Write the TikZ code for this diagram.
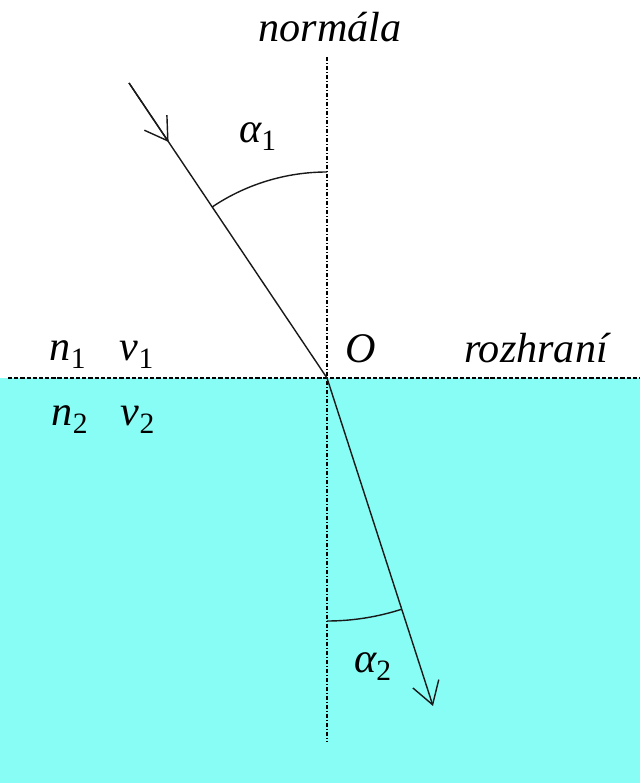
\documentclass[tikz,border=0pt]{standalone}
\usepackage{fontspec}
\setmainfont{Liberation Serif}
\usetikzlibrary{arrows.meta,calc}
\definecolor{water}{RGB}{136,253,245}

\begin{document}
\begin{tikzpicture}[
  ray/.style={line width=1pt,black!90},
  barb/.style={-{Straight Barb[length=5.5mm,width=6.8mm,line width=1pt]}},
  normline/.style={line width=1pt,dash pattern=on 3pt off 1.2pt on 1pt off 1.2pt},
  iface/.style={line width=1pt,dash pattern=on 3pt off 1.4pt},
  lbl/.style={anchor=base,inner sep=0pt,font=\fontsize{30}{35}\selectfont\itshape}
]
  \useasboundingbox (0,0) rectangle (16,19.575);
  \fill[water] (0,0) rectangle (16,10.125);

  \coordinate (O) at (8.175,10.125);
  \coordinate (A) at (3.225,17.5);
  \coordinate (B) at (10.825,1.925);
  \coordinate (Ntop) at (8.175,18.15);
  \coordinate (Nbot) at (8.175,1.025);
  \coordinate (Ileft) at (0.2,10.125);
  \coordinate (Iright) at (16,10.125);

  \draw[normline] (Ntop) -- (Nbot);
  \draw[iface] (Ileft) -- (Iright);

  % incident and refracted ray
  \draw[ray] (A) -- (O);
  \draw[ray,barb] (A) -- ($(A)!0.2!(O)$);
  \draw[ray,barb] (O) -- (B);

  % angles
  \draw[ray] ($(O)+(90:5.15)$) arc[start angle=90,end angle=123.9,radius=5.15];
  \draw[ray] ($(O)+(-90:6.075)$) arc[start angle=-90,end angle=-72.1,radius=6.075];

  \node[lbl] (normal) at (8.25,18.525) {normála};
  \node[lbl] (a1) at (6.45,16.0) {α\textsubscript{\upshape 1}};
  \node[lbl] (a2) at (9.325,2.75) {α\textsubscript{\upshape 2}};
  \node[lbl] (n1) at (1.7,10.55) {n\textsubscript{\upshape 1}};
  \node[lbl] (v1) at (3.425,10.55) {v\textsubscript{\upshape 1}};
  \node[lbl] (n2) at (1.75,8.925) {n\textsubscript{\upshape 2}};
  \node[lbl] (v2) at (3.45,8.925) {v\textsubscript{\upshape 2}};
  \node[lbl] (o) at (9.025,10.5) {O};
  \node[lbl] (iname) at (13.4,10.5) {rozhraní};
\end{tikzpicture}
\end{document}
